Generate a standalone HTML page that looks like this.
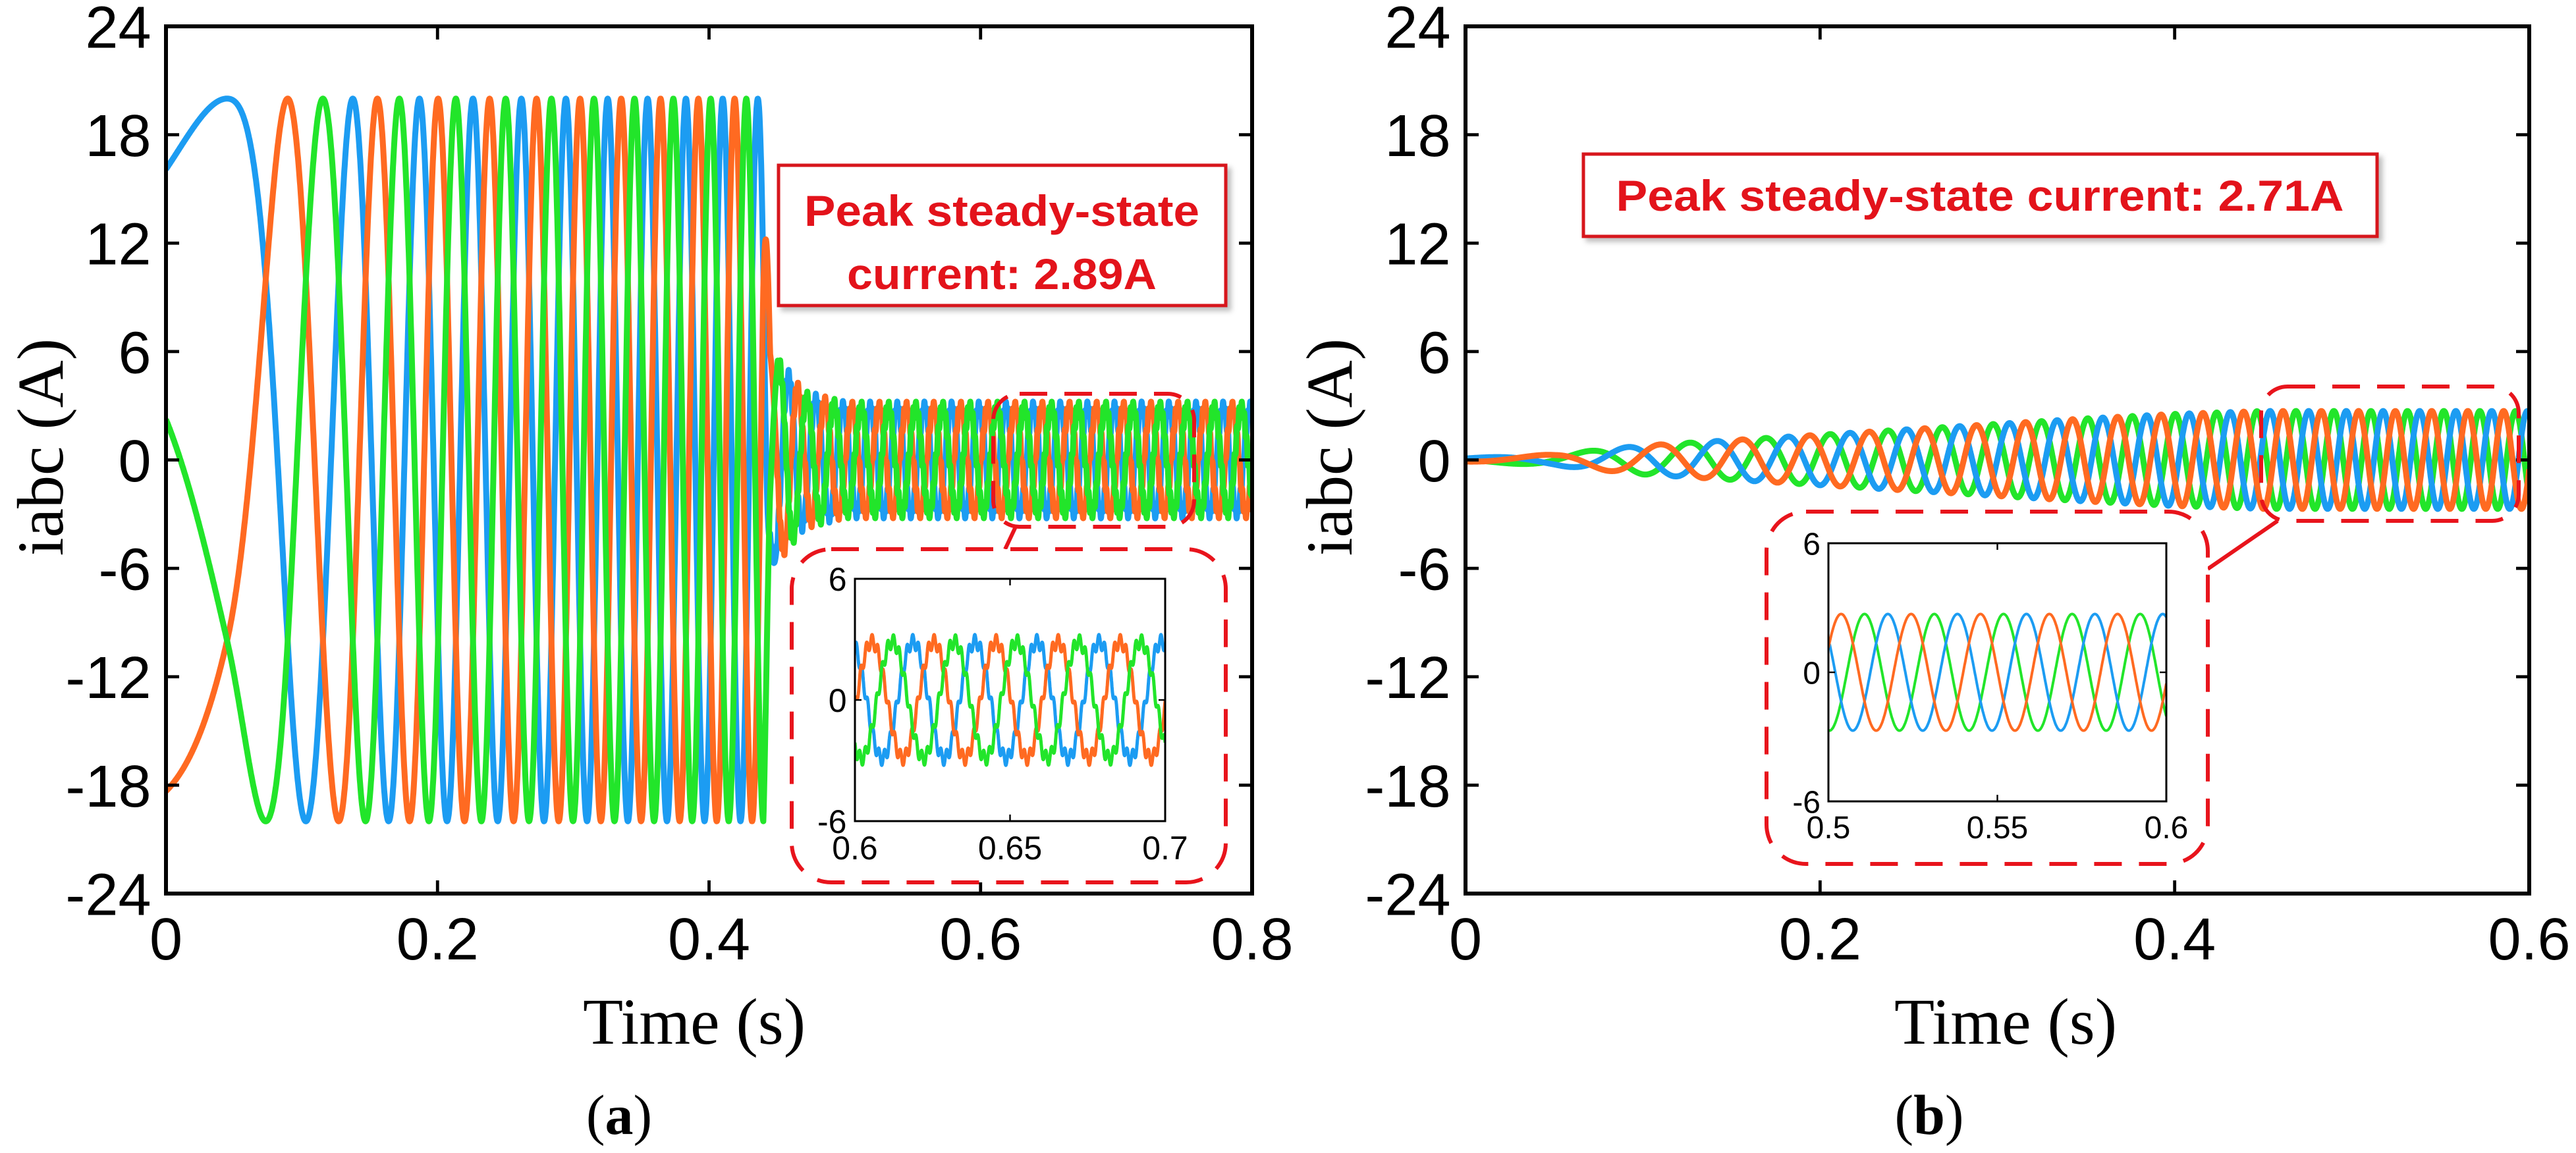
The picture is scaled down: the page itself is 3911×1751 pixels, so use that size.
<!DOCTYPE html>
<html>
<head>
<meta charset="utf-8">
<style>
  html,body{margin:0;padding:0;background:#fff;}
  svg{display:block;}
</style>
</head>
<body>
<svg id="fig" width="3911" height="1751" viewBox="0 0 3911 1751" xmlns="http://www.w3.org/2000/svg">
  <defs>
    <clipPath id="clipA"><rect x="252" y="40" width="1649" height="1317"/></clipPath>
    <clipPath id="clipB"><rect x="2225" y="40" width="1615" height="1317"/></clipPath>
    <clipPath id="clipIA"><rect x="1298" y="879" width="471" height="368"/></clipPath>
    <clipPath id="clipIB"><rect x="2776" y="825" width="513" height="392"/></clipPath>
    <filter id="shadow" x="-5%" y="-10%" width="115%" height="130%">
      <feDropShadow dx="6" dy="6" stdDeviation="4" flood-color="#000" flood-opacity="0.25"/>
    </filter>
  </defs>
  <rect width="3911" height="1751" fill="#fff"/>
  <g id="layer"></g>
</svg>
<script>
// ---------- data ----------
const yTicks = [-24, -18, -12, -6, 0, 6, 12, 18, 24];
const xTicksA = [0, 0.2, 0.4, 0.6, 0.8];
const xTickLabelsA = ['0', '0.2', '0.4', '0.6', '0.8'];
const xTicksB = [0, 0.2, 0.4, 0.6];
const xTickLabelsB = ['0', '0.2', '0.4', '0.6'];
const insetYTicks = [-6, 0, 6];
const insetXTicksA = [0.6, 0.65, 0.7];
const insetXTickLabelsA = ['0.6', '0.65', '0.7'];
const insetXTicksB = [0.5, 0.55, 0.6];
const insetXTickLabelsB = ['0.5', '0.55', '0.6'];

// plot (a): frequency (Hz) and amplitude (A) keypoints vs time (s)
const aFreqT = [0, 0.045, 0.09, 0.12, 0.15, 0.2, 0.3, 0.4, 0.44, 0.46, 0.8];
const aFreqF = [1.5, 3, 12, 14, 19, 25, 32, 37, 40, 50, 50];
const aAmpT = [0, 0.44, 0.445, 0.47, 0.5, 0.8];
const aAmpV = [20, 20, 6, 3.5, 2.89, 2.89];
const aRipple = 0.35;
const aPeakTime = 0.045; // blue phase peak

// plot (b)
const bFreqT = [0, 0.05, 0.1, 0.2, 0.3, 0.4, 0.5, 0.6];
const bFreqF = [8, 12, 18, 29, 36, 42, 48, 50];
const bAmpT = [0, 0.05, 0.1, 0.15, 0.2, 0.25, 0.3, 0.35, 0.4, 0.45, 0.6];
const bAmpV = [0.1, 0.3, 0.8, 1.1, 1.4, 1.7, 2.0, 2.3, 2.55, 2.71, 2.71];
const bPeakTime = 0.07; // green phase peak

const annotationA = ['Peak steady-state', 'current: 2.89A'];
const annotationB = 'Peak steady-state current: 2.71A';

// ---------- helpers ----------
const NS = 'http://www.w3.org/2000/svg';
const layer = document.getElementById('layer');
const COLORS = {blue: '#1c9cf2', orange: '#ff6a21', green: '#22e52a'};
function mk(tag, attrs, parent) {
  const e = document.createElementNS(NS, tag);
  for (const k in attrs) e.setAttribute(k, attrs[k]);
  (parent || layer).appendChild(e);
  return e;
}
function interp(ts, vs, t) {
  if (t <= ts[0]) return vs[0];
  for (let i = 1; i < ts.length; i++) {
    if (t <= ts[i]) { const u = (t - ts[i-1]) / (ts[i] - ts[i-1]); return vs[i-1] + u * (vs[i] - vs[i-1]); }
  }
  return vs[vs.length - 1];
}
function makeModel(fT, fF, aT, aV, tEnd, peakT, ripple) {
  const dt = 0.00005;
  const n = Math.ceil(tEnd / dt) + 1;
  const theta = new Float64Array(n);
  for (let i = 1; i < n; i++) {
    const tm = (i - 0.5) * dt;
    theta[i] = theta[i-1] + 2 * Math.PI * interp(fT, fF, tm) * dt;
  }
  const off = -theta[Math.round(peakT / dt)];
  return function (t, k) {
    let idx = Math.min(n - 1, Math.max(0, Math.round(t / dt)));
    const th = theta[idx] + off - k * 2 * Math.PI / 3;
    const A = interp(aT, aV, t);
    let v = A * Math.cos(th);
    if (ripple && t > 0.45) v += ripple * Math.sin(2 * Math.PI * 550 * t + k * 1.3);
    return v;
  };
}
function axisFns(L, R, T, B, x0, x1, y0, y1) {
  return {
    x: v => L + (v - x0) / (x1 - x0) * (R - L),
    y: v => B - (v - y0) / (y1 - y0) * (B - T)
  };
}
function drawSeries(g, fn, ax, t0, t1, step, colorsByK, width, names) {
  colorsByK.forEach((col, k) => {
    let d = '';
    for (let t = t0; t <= t1 + 1e-9; t += step) {
      d += (d ? 'L' : 'M') + ax.x(t).toFixed(1) + ',' + ax.y(fn(t, k)).toFixed(1);
    }
    const p = mk('path', {d: d, fill: 'none', stroke: col, 'stroke-width': width, 'stroke-linejoin': 'round'}, g);
    
    
  });
}
function drawFrame(L, R, T, B, ax, xt, xl, yt, yl, fs, tickLen, sw, xlOff, namePrefix) {
  const g = mk('g', {});
  
  
  const fr = mk('rect', {x: L, y: T, width: R - L, height: B - T, fill: 'none', stroke: '#000', 'stroke-width': sw}, g);
  
  
  xt.forEach((v, i) => {
    const x = ax.x(v);
    mk('line', {x1: x, y1: B, x2: x, y2: B - tickLen, stroke: '#000', 'stroke-width': sw * 0.8}, g);
    mk('line', {x1: x, y1: T, x2: x, y2: T + tickLen, stroke: '#000', 'stroke-width': sw * 0.8}, g);
    const tx = mk('text', {x: x, y: B + xlOff, 'text-anchor': 'middle', 'font-size': fs, 'font-family': '"Liberation Sans", Arial, sans-serif', fill: '#000'}, g);
    tx.textContent = xl[i];
    
    
  });
  yt.forEach((v, i) => {
    const y = ax.y(v);
    mk('line', {x1: L, y1: y, x2: L + tickLen, y2: y, stroke: '#000', 'stroke-width': sw * 0.8}, g);
    mk('line', {x1: R, y1: y, x2: R - tickLen, y2: y, stroke: '#000', 'stroke-width': sw * 0.8}, g);
    const ty = mk('text', {x: L - fs * 0.25, y: y + fs * 0.36, 'text-anchor': 'end', 'font-size': fs, 'font-family': '"Liberation Sans", Arial, sans-serif', fill: '#000'}, g);
    ty.textContent = yl[i];
    
    
  });
  return g;
}
function dashedBox(x, y, w, h, rx, name) {
  const r = mk('rect', {x: x, y: y, width: w, height: h, rx: rx, ry: rx, fill: 'none', stroke: '#e8141c', 'stroke-width': 6, 'stroke-dasharray': '42 26'});
  
  
  return r;
}
function serifText(txt, x, y, fs, name, extra) {
  const t = mk('text', Object.assign({x: x, y: y, 'text-anchor': 'middle', 'font-size': fs, 'font-family': '"Liberation Serif", "Times New Roman", serif', fill: '#000'}, extra || {}));
  t.textContent = txt;
  
  
  return t;
}
const yTickLabels = yTicks.map(v => String(v));
const insetYTickLabels = insetYTicks.map(v => String(v));

// ---------- plot (a) ----------
const modelA = makeModel(aFreqT, aFreqF, aAmpT, aAmpV, 0.8, aPeakTime, aRipple);
const axA = axisFns(252, 1901, 40, 1357, 0, 0.8, -24, 24);
const gA = mk('g', {'clip-path': 'url(#clipA)'});


drawSeries(gA, modelA, axA, 0, 0.8, 0.0002, [COLORS.blue, COLORS.orange, COLORS.green], 9, ['series-ia-a', 'series-ib-a', 'series-ic-a']);
drawFrame(252, 1901, 40, 1357, axA, xTicksA, xTickLabelsA, yTicks, yTickLabels, 90, 20, 6, 100, 'plot-a');
serifText('iabc (A)', 0, 0, 100, 'plot-a-y-axis-title', {transform: 'translate(95,679) rotate(-90)'});
serifText('Time (s)', 1054, 1585, 100, 'plot-a-x-axis-title');
const capA = serifText('(', 940, 1722, 86, 'caption-a');
capA.innerHTML = '(<tspan font-weight="bold">a</tspan>)';

const annA = mk('g', {});


mk('rect', {x: 1182, y: 251, width: 679, height: 213, fill: '#fff', stroke: '#d7141a', 'stroke-width': 5, filter: 'url(#shadow)'}, annA);
const annALens = [600, 470];
annotationA.forEach((s, i) => {
  const t = mk('text', {x: 1521, y: 343 + i * 96, 'text-anchor': 'middle', 'font-size': 66, 'font-weight': 'bold', 'font-family': '"Liberation Sans", Arial, sans-serif', fill: '#e3131b', textLength: annALens[i], lengthAdjust: 'spacingAndGlyphs'}, annA);
  t.textContent = s;
});

dashedBox(1508, 598, 305, 202, 40, 'zoom-region-a');
mk('line', {x1: 1542, y1: 800, x2: 1526, y2: 834, stroke: '#e8141c', 'stroke-width': 6});
mk('rect', {x: 1202, y: 834, width: 659, height: 506, rx: 60, fill: '#fff'});
dashedBox(1202, 834, 659, 506, 60, 'inset-a-border');
const axIA = axisFns(1298, 1769, 879, 1247, 0.6, 0.7, -6, 6);
const gIA = mk('g', {'clip-path': 'url(#clipIA)'});


mk('rect', {x: 1298, y: 879, width: 471, height: 368, fill: '#fff'}, gIA);
drawSeries(gIA, modelA, axIA, 0.6, 0.7, 0.00005, [COLORS.blue, COLORS.orange, COLORS.green], 5, ['inset-ia-a', 'inset-ib-a', 'inset-ic-a']);
drawFrame(1298, 1769, 879, 1247, axIA, insetXTicksA, insetXTickLabelsA, insetYTicks, insetYTickLabels, 50, 10, 3, 58, 'inset-a');

// ---------- plot (b) ----------
const modelB = makeModel(bFreqT, bFreqF, bAmpT, bAmpV, 0.6, bPeakTime, 0);
const axB = axisFns(2225, 3840, 40, 1357, 0, 0.6, -24, 24);
const gB = mk('g', {'clip-path': 'url(#clipB)'});


drawSeries(gB, modelB, axB, 0, 0.6, 0.0002, [COLORS.green, COLORS.blue, COLORS.orange], 9, ['series-ic-b', 'series-ia-b', 'series-ib-b']);
drawFrame(2225, 3840, 40, 1357, axB, xTicksB, xTickLabelsB, yTicks, yTickLabels, 90, 20, 6, 100, 'plot-b');
serifText('iabc (A)', 0, 0, 100, 'plot-b-y-axis-title', {transform: 'translate(2052,679) rotate(-90)'});
serifText('Time (s)', 3045, 1585, 100, 'plot-b-x-axis-title');
const capB = serifText('(', 2929, 1722, 86, 'caption-b');
capB.innerHTML = '(<tspan font-weight="bold">b</tspan>)';

const annB = mk('g', {});


mk('rect', {x: 2404, y: 234, width: 1205, height: 125, fill: '#fff', stroke: '#d7141a', 'stroke-width': 5, filter: 'url(#shadow)'}, annB);
const tb = mk('text', {x: 3006, y: 320, 'text-anchor': 'middle', 'font-size': 66, 'font-weight': 'bold', 'font-family': '"Liberation Sans", Arial, sans-serif', fill: '#e3131b', textLength: 1105, lengthAdjust: 'spacingAndGlyphs'}, annB);
tb.textContent = annotationB;

dashedBox(3433, 587, 391, 204, 40, 'zoom-region-b');
mk('line', {x1: 3352, y1: 864, x2: 3458, y2: 791, stroke: '#e8141c', 'stroke-width': 6});
mk('rect', {x: 2682, y: 777, width: 670, height: 535, rx: 60, fill: '#fff'});
dashedBox(2682, 777, 670, 535, 60, 'inset-b-border');
const axIB = axisFns(2776, 3289, 825, 1217, 0.5, 0.6, -6, 6);
const gIB = mk('g', {'clip-path': 'url(#clipIB)'});


drawSeries(gIB, modelB, axIB, 0.5, 0.6, 0.0001, [COLORS.green, COLORS.blue, COLORS.orange], 4, ['inset-ic-b', 'inset-ia-b', 'inset-ib-b']);
drawFrame(2776, 3289, 825, 1217, axIB, insetXTicksB, insetXTickLabelsB, insetYTicks, insetYTickLabels, 48, 10, 3, 56, 'inset-b');
</script>
</body>
</html>
